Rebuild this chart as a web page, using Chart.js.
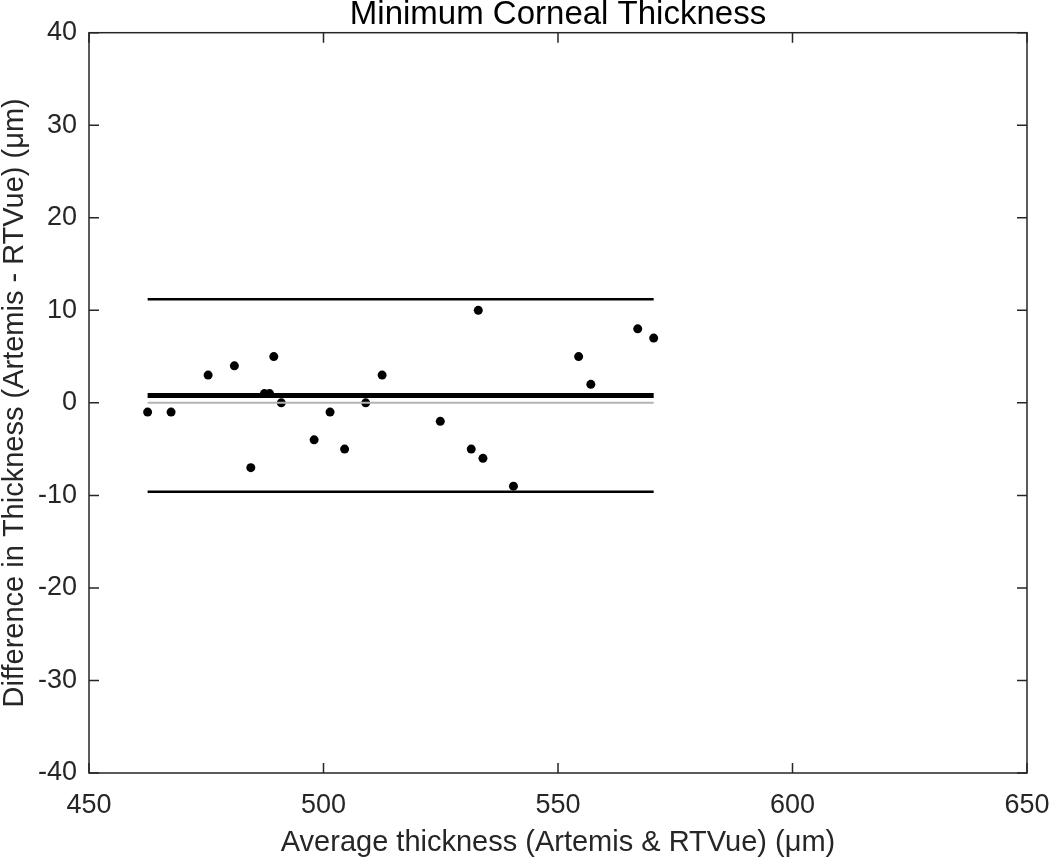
<!DOCTYPE html>
<html>
<head>
<meta charset="utf-8">
<title>Minimum Corneal Thickness</title>
<script src="https://cdn.jsdelivr.net/npm/chart.js@4/dist/chart.umd.min.js"></script>
<style>
    html, body { margin: 0; padding: 0; background: #fff; }
    #wrap { width: 1050px; height: 858px; }
</style>
</head>
<body>
<div id="wrap"><canvas id="chart" width="1050" height="858"></canvas></div>
<script>
// Bland-Altman data: average thickness vs difference
const avgThickness = [462.5, 467.5, 475.4, 481.0, 484.5, 487.4, 488.5, 489.4, 491.0, 498.0, 501.4, 504.5,
    509.0, 512.5, 524.9, 531.5, 533.0, 534.0, 540.5, 554.4, 557.0, 567.0, 570.4];
const diffThickness = [-1, -1, 3, 4, -7, 1, 1, 5, 0, -4, -1, -5,
    0, 3, -2, -5, 10, -6, -9, 5, 2, 8, 7];

// mean difference and limits of agreement
const meanDiff = 0.8;
const upperLoA = 11.2;
const lowerLoA = -9.6;

const xTicks = [450, 500, 550, 600, 650];
const yTicks = [-40, -30, -20, -10, 0, 10, 20, 30, 40];

const axisColor = '#262626';
const FONT = "'Liberation Sans', Arial, Helvetica, sans-serif";

const xMin = Math.min(...avgThickness);
const xMax = Math.max(...avgThickness);

function hLine(y) {
    return [{ x: xMin, y: y }, { x: xMax, y: y }];
}

// Box around plot area with inward ticks on all four sides (MATLAB style)
const boxPlugin = {
    id: 'box',
    afterDatasetsDraw(chart) {
        const { ctx, chartArea: a, scales } = chart;
        const tick = 10;
        ctx.save();
        ctx.strokeStyle = axisColor;
        ctx.lineWidth = 1.5;
        ctx.strokeRect(a.left, a.top, a.right - a.left, a.bottom - a.top);
        ctx.beginPath();
        xTicks.forEach(v => {
            const px = scales.x.getPixelForValue(v);
            ctx.moveTo(px, a.bottom); ctx.lineTo(px, a.bottom - tick);
            ctx.moveTo(px, a.top); ctx.lineTo(px, a.top + tick);
        });
        yTicks.forEach(v => {
            const py = scales.y.getPixelForValue(v);
            ctx.moveTo(a.left, py); ctx.lineTo(a.left + tick, py);
            ctx.moveTo(a.right, py); ctx.lineTo(a.right - tick, py);
        });
        ctx.stroke();
        ctx.restore();
    }
};

new Chart(document.getElementById('chart'), {
    type: 'scatter',
    data: {
        datasets: [
            {
                label: 'Zero',
                type: 'line',
                data: hLine(0),
                borderColor: '#b4b4b4',
                borderWidth: 2,
                pointRadius: 0,
                order: 0
            },
            {
                label: 'Differences',
                data: avgThickness.map((x, i) => ({ x: x, y: diffThickness[i] })),
                backgroundColor: '#000',
                borderColor: '#000',
                pointRadius: 4.5,
                pointBorderWidth: 0,
                order: 1
            },
            {
                label: 'Mean',
                type: 'line',
                data: hLine(meanDiff),
                borderColor: '#000',
                borderWidth: 5,
                pointRadius: 0,
                order: 2
            },
            {
                label: 'Upper LoA',
                type: 'line',
                data: hLine(upperLoA),
                borderColor: '#000',
                borderWidth: 2.5,
                pointRadius: 0,
                order: 2
            },
            {
                label: 'Lower LoA',
                type: 'line',
                data: hLine(lowerLoA),
                borderColor: '#000',
                borderWidth: 2.5,
                pointRadius: 0,
                order: 2
            }
        ]
    },
    options: {
        responsive: false,
        animation: false,
        layout: { padding: { left: 0, right: 23, top: 0, bottom: 0 } },
        plugins: {
            legend: { display: false },
            tooltip: { enabled: false },
            title: {
                display: true,
                fullSize: false,
                text: 'Minimum Corneal Thickness',
                color: '#000',
                font: { family: FONT, size: 33, weight: 'normal', lineHeight: 0.9 },
                padding: { top: 0, bottom: 3 }
            }
        },
        scales: {
            x: {
                type: 'linear',
                min: 450,
                max: 650,
                afterBuildTicks: s => { s.ticks = xTicks.map(v => ({ value: v })); },
                afterFit: s => { s.height = 85; s.paddingLeft = 0; s.paddingRight = 0; },
                grid: { display: false, drawTicks: false },
                border: { display: false },
                ticks: {
                    color: axisColor,
                    padding: 16,
                    maxRotation: 0,
                    font: { family: FONT, size: 27 }
                },
                title: {
                    display: true,
                    text: 'Average thickness (Artemis & RTVue) (\u03bcm)',
                    color: axisColor,
                    font: { family: FONT, size: 29, lineHeight: 1 },
                    padding: { top: 0, bottom: 1 }
                }
            },
            y: {
                type: 'linear',
                min: -40,
                max: 40,
                afterBuildTicks: s => { s.ticks = yTicks.map(v => ({ value: v })); },
                afterFit: s => { s.width = 89; s.paddingTop = 0; s.paddingBottom = 0; },
                grid: { display: false, drawTicks: false },
                border: { display: false },
                ticks: {
                    color: axisColor,
                    padding: 12,
                    font: { family: FONT, size: 27 }
                },
                title: {
                    display: true,
                    text: 'Difference in Thickness (Artemis - RTVue) (\u03bcm)',
                    color: axisColor,
                    font: { family: FONT, size: 29, lineHeight: 1 },
                    padding: { top: 0, bottom: 0 }
                }
            }
        }
    },
    plugins: [boxPlugin]
});
</script>
</body>
</html>
